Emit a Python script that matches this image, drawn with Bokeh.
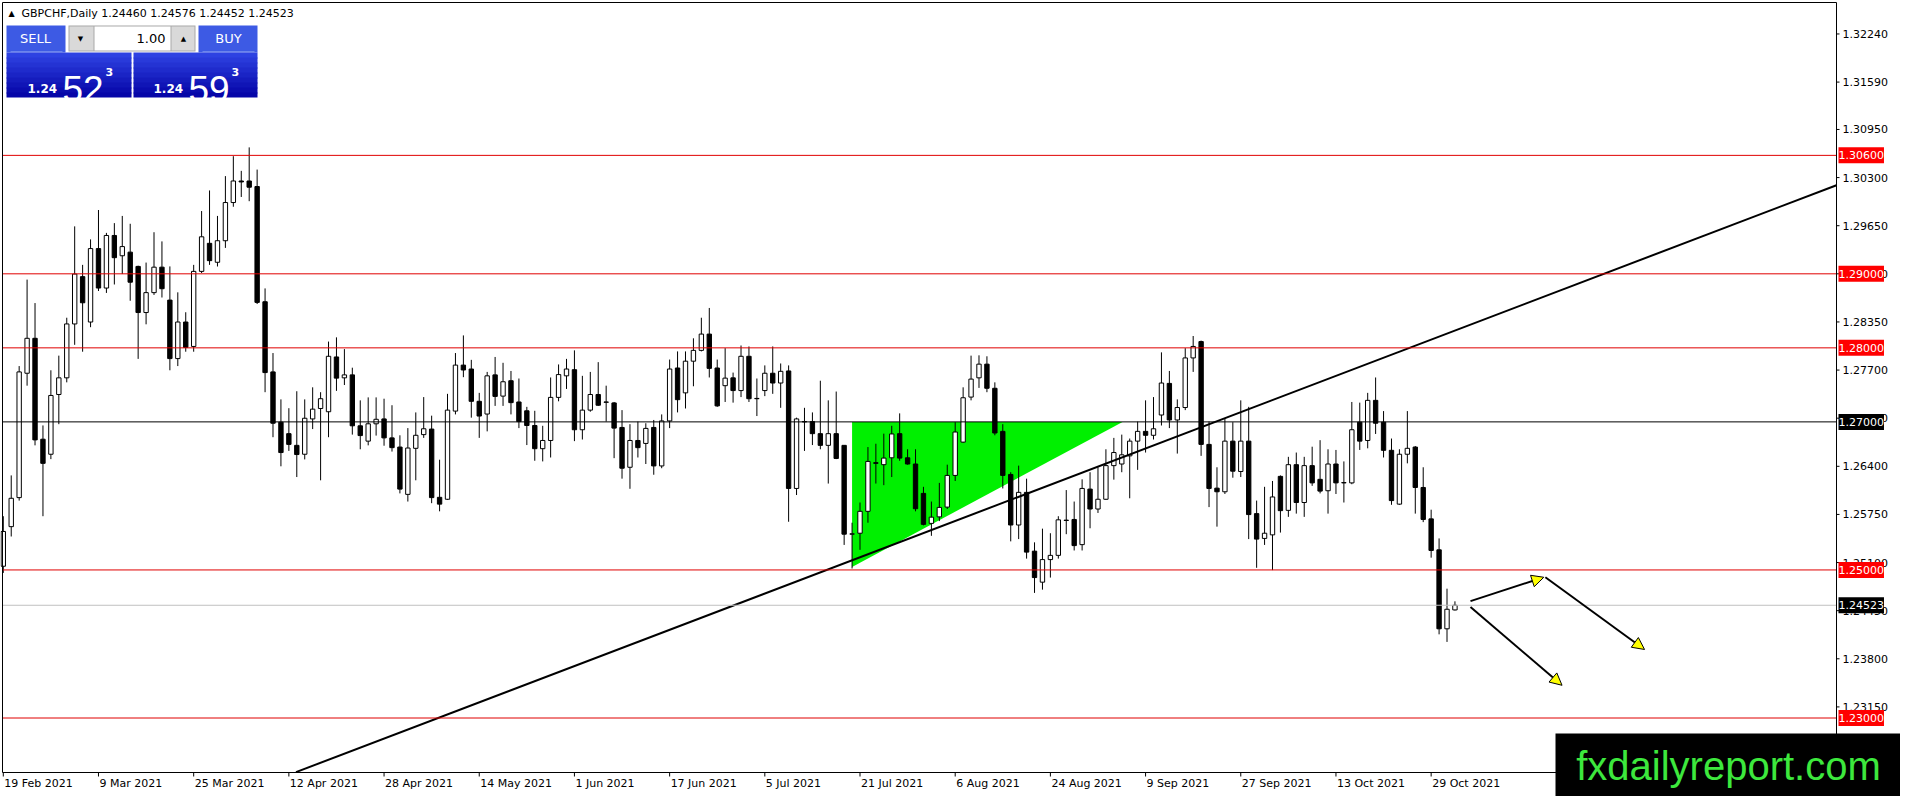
import numpy as np
from bokeh.plotting import figure
from bokeh.models import ColumnDataSource, Label, BoxAnnotation, Arrow, NormalHead
from bokeh.core.properties import value
from bokeh.embed import file_html
from bokeh.resources import INLINE

# ---- data (one candle per trading day, 19 Feb .. 3 Nov 2021)
symbol = "GBPCHF,Daily"
last_ohlc = [1.24460, 1.24576, 1.24452, 1.24523]

opens = [1.2505, 1.25585, 1.25977, 1.27657, 1.28129, 1.26766, 1.26563, 1.2737, 1.27595, 1.28323,
         1.28962, 1.28349, 1.29341, 1.28808, 1.29518, 1.29244, 1.29293, 1.291, 1.28477, 1.28746,
         1.2909, 1.28645, 1.27855, 1.28349, 1.28019, 1.29033, 1.29412, 1.29156, 1.29447, 1.29963,
         1.30254, 1.30254, 1.30179, 1.28623, 1.27675, 1.26996, 1.26841, 1.26683, 1.26563, 1.2704,
         1.27181, 1.27137, 1.27877, 1.27595, 1.27635, 1.26947, 1.2674, 1.26974, 1.2704, 1.26784,
         1.2666, 1.26021, 1.26643, 1.26828, 1.26903, 1.25981, 1.25955, 1.27146, 1.27767, 1.27714,
         1.27278, 1.27106, 1.27635, 1.27348, 1.27556, 1.27269, 1.2715, 1.26951, 1.26638, 1.26749,
         1.27331, 1.27622, 1.27705, 1.26894, 1.27159, 1.2737, 1.27269, 1.27256, 1.26925, 1.26387,
         1.26749, 1.26709, 1.26925, 1.26405, 1.27013, 1.27728, 1.27392, 1.2782, 1.27966, 1.28186,
         1.27728, 1.27489, 1.27595, 1.27423, 1.27886, 1.27317, 1.27423, 1.27657, 1.27525, 1.27688,
         1.26101, 1.27004, 1.27004, 1.26841, 1.26683, 1.26841, 1.26683, 1.25483, 1.25496, 1.25792,
         1.26449, 1.26422, 1.26515, 1.26841, 1.26515, 1.26431, 1.26034, 1.25629, 1.25717, 1.25849,
         1.26277, 1.26727, 1.27335, 1.27595, 1.2778, 1.27454, 1.26872, 1.2629, 1.25607, 1.26048,
         1.25254, 1.24835, 1.2514, 1.25197, 1.25673, 1.25682, 1.25342, 1.26092, 1.25823, 1.25955,
         1.26409, 1.26431, 1.26541, 1.2674, 1.26872, 1.26819, 1.27093, 1.2752, 1.27026, 1.27194,
         1.27864, 1.28085, 1.26696, 1.26105, 1.26056, 1.2674, 1.2633, 1.2674, 1.25761, 1.25426,
         1.25474, 1.26264, 1.25805, 1.26422, 1.25911, 1.26409, 1.26224, 1.2607, 1.26431, 1.2618,
         1.26176, 1.26996, 1.26749, 1.27291, 1.26996, 1.26616, 1.25889, 1.26563, 1.2666, 1.26114,
         1.2569, 1.25272, 1.24205, 1.2446]
highs = [1.25726, 1.26277, 1.27754, 1.28922, 1.28605, 1.26952, 1.27697, 1.27895, 1.28407, 1.29641,
         1.29121, 1.29465, 1.29862, 1.29553, 1.29685, 1.29782, 1.29676, 1.2911, 1.29152, 1.29562,
         1.29438, 1.291, 1.2875, 1.28481, 1.29121, 1.29848, 1.30126, 1.29782, 1.3032, 1.30589,
         1.30391, 1.30708, 1.30408, 1.28803, 1.2793, 1.27304, 1.27185, 1.27414, 1.27304, 1.27467,
         1.27401, 1.28085, 1.28142, 1.27983, 1.27732, 1.27291, 1.27331, 1.27331, 1.27313, 1.27225,
         1.26819, 1.26916, 1.27128, 1.27335, 1.27084, 1.26489, 1.27379, 1.2793, 1.28168, 1.27838,
         1.27392, 1.27675, 1.27877, 1.27798, 1.27688, 1.27586, 1.27203, 1.2715, 1.26947, 1.276,
         1.27776, 1.27851, 1.27966, 1.27622, 1.27675, 1.27807, 1.27489, 1.27269, 1.27159, 1.26969,
         1.27004, 1.26982, 1.27026, 1.27101, 1.27842, 1.27952, 1.27952, 1.28129, 1.28407, 1.28539,
         1.27842, 1.27996, 1.27666, 1.28032, 1.28019, 1.27586, 1.27763, 1.28019, 1.27789, 1.27763,
         1.27057, 1.2719, 1.27128, 1.27556, 1.27291, 1.2741, 1.26683, 1.25638, 1.25911, 1.2666,
         1.26705, 1.26841, 1.26947, 1.27115, 1.2663, 1.2663, 1.26123, 1.25924, 1.26176, 1.26422,
         1.26996, 1.27467, 1.27895, 1.27899, 1.27886, 1.27534, 1.26969, 1.2632, 1.26409, 1.26233,
         1.25373, 1.25558, 1.25496, 1.25726, 1.26079, 1.25924, 1.26224, 1.2632, 1.26387, 1.2663,
         1.26784, 1.26828, 1.26775, 1.27004, 1.27291, 1.27335, 1.27939, 1.27688, 1.27304, 1.27996,
         1.2816, 1.28098, 1.27004, 1.26387, 1.27049, 1.26996, 1.27291, 1.27203, 1.25937, 1.26123,
         1.26202, 1.26277, 1.26528, 1.26586, 1.26528, 1.26665, 1.26753, 1.2663, 1.26621, 1.26466,
         1.27269, 1.2726, 1.27392, 1.276, 1.27146, 1.26775, 1.2663, 1.27146, 1.26674, 1.26387,
         1.25814, 1.25426, 1.24747, 1.24576]
lows = [1.2496, 1.25452, 1.25937, 1.27489, 1.26683, 1.25726, 1.26497, 1.26969, 1.27534, 1.28041,
        1.27948, 1.28279, 1.28768, 1.28742, 1.28856, 1.28997, 1.28636, 1.27851, 1.28318, 1.28715,
        1.2868, 1.27697, 1.27754, 1.27948, 1.27948, 1.29011, 1.29121, 1.29099, 1.2935, 1.29906,
        1.30038, 1.29981, 1.28592, 1.27401, 1.26793, 1.264, 1.26608, 1.26255, 1.26493, 1.26903,
        1.26211, 1.26793, 1.27419, 1.27498, 1.26828, 1.2663, 1.26683, 1.26815, 1.26678, 1.26599,
        1.26034, 1.25924, 1.26211, 1.26784, 1.25902, 1.25792, 1.25946, 1.27101, 1.27604, 1.27057,
        1.26784, 1.26872, 1.27216, 1.27216, 1.27101, 1.26916, 1.26687, 1.26475, 1.26466, 1.26519,
        1.27278, 1.27445, 1.2674, 1.26762, 1.27137, 1.27216, 1.27004, 1.2651, 1.26233, 1.26096,
        1.26519, 1.26431, 1.26286, 1.26374, 1.26916, 1.27128, 1.27181, 1.27481, 1.27952, 1.276,
        1.27203, 1.27269, 1.2726, 1.27335, 1.27269, 1.27079, 1.27348, 1.27379, 1.2719, 1.25651,
        1.26012, 1.26608, 1.26687, 1.2663, 1.26167, 1.26497, 1.25338, 1.2502, 1.25272, 1.25638,
        1.26167, 1.26145, 1.26255, 1.26475, 1.26422, 1.25792, 1.25602, 1.25461, 1.2566, 1.25823,
        1.26202, 1.26718, 1.27291, 1.27459, 1.27401, 1.26819, 1.26101, 1.25386, 1.25417, 1.25153,
        1.2469, 1.24734, 1.24897, 1.25153, 1.25483, 1.25263, 1.25263, 1.25563, 1.2577, 1.25946,
        1.2622, 1.2632, 1.25968, 1.26352, 1.26586, 1.26762, 1.26951, 1.26916, 1.26572, 1.27159,
        1.27675, 1.26541, 1.25849, 1.25585, 1.26026, 1.26246, 1.26255, 1.25417, 1.25029, 1.25338,
        1.24998, 1.25505, 1.25717, 1.25761, 1.25717, 1.26136, 1.26034, 1.25761, 1.26026, 1.25911,
        1.26158, 1.26621, 1.26643, 1.26837, 1.26519, 1.2588, 1.2588, 1.2644, 1.25761, 1.25646,
        1.25166, 1.2413, 1.24028, 1.24452]
closes = [1.2552, 1.25968, 1.27675, 1.28129, 1.26757, 1.2644, 1.27357, 1.27595, 1.28323, 1.28997,
          1.28609, 1.29341, 1.28808, 1.29518, 1.29218, 1.29368, 1.28887, 1.28477, 1.28746, 1.2909,
          1.28799, 1.27855, 1.28349, 1.28005, 1.29033, 1.295, 1.29178, 1.29447, 1.29963, 1.30254,
          1.30241, 1.3017, 1.28614, 1.27666, 1.26982, 1.26586, 1.26696, 1.26559, 1.27049, 1.27172,
          1.27313, 1.27886, 1.27591, 1.27635, 1.26947, 1.26815, 1.26974, 1.27035, 1.26784, 1.26652,
          1.26092, 1.26647, 1.26819, 1.26907, 1.25977, 1.25889, 1.27159, 1.27767, 1.27701, 1.27278,
          1.27079, 1.27622, 1.27344, 1.27542, 1.2726, 1.27004, 1.26951, 1.26638, 1.26749, 1.27331,
          1.27639, 1.27714, 1.26894, 1.27159, 1.2737, 1.27225, 1.27265, 1.26916, 1.26374, 1.26749,
          1.26652, 1.26912, 1.26405, 1.27013, 1.27714, 1.273, 1.2782, 1.27966, 1.28186, 1.27723,
          1.27216, 1.27591, 1.27423, 1.27886, 1.27313, 1.27313, 1.27657, 1.27525, 1.27683, 1.26101,
          1.2704, 1.27, 1.26841, 1.26683, 1.26841, 1.26506, 1.25483, 1.25488, 1.25792, 1.26466,
          1.2644, 1.26511, 1.26837, 1.26511, 1.26431, 1.25827, 1.25616, 1.25713, 1.25845, 1.26277,
          1.26863, 1.27326, 1.27578, 1.2778, 1.27454, 1.2685, 1.26277, 1.25607, 1.26048, 1.25241,
          1.24897, 1.2514, 1.25197, 1.25677, 1.25668, 1.25329, 1.26101, 1.25823, 1.25955, 1.26409,
          1.26586, 1.26555, 1.2674, 1.26872, 1.26819, 1.26907, 1.27525, 1.27026, 1.27194, 1.27864,
          1.28019, 1.26696, 1.26101, 1.26056, 1.2674, 1.26334, 1.2674, 1.25748, 1.25417, 1.25496,
          1.25986, 1.25801, 1.26422, 1.25911, 1.26409, 1.26176, 1.26065, 1.26431, 1.26176, 1.26176,
          1.26894, 1.2674, 1.27291, 1.26982, 1.26616, 1.25937, 1.26563, 1.26643, 1.26114, 1.25682,
          1.25263, 1.24205, 1.24469, 1.24523]

date_ticks = [0, 12, 24, 36, 48, 60, 72, 84, 96, 108, 120, 132, 144, 156, 168, 180]
date_labels = ["19 Feb 2021", "9 Mar 2021", "25 Mar 2021", "12 Apr 2021", "28 Apr 2021",
               "14 May 2021", "1 Jun 2021", "17 Jun 2021", "5 Jul 2021", "21 Jul 2021",
               "6 Aug 2021", "24 Aug 2021", "9 Sep 2021", "27 Sep 2021", "13 Oct 2021",
               "29 Oct 2021"]
price_ticks = [1.23150, 1.23800, 1.24450, 1.25100, 1.25750, 1.26400, 1.27050, 1.27700,
               1.28350, 1.29000, 1.29650, 1.30300, 1.30950, 1.31590, 1.32240]

red_levels = [1.30600, 1.29000, 1.28000, 1.25000, 1.23000]
black_level = 1.27000
bid = 1.24523

trend_x = [36.9, 231.1]
trend_y = [1.22269, 1.30197]
tri_x = [107, 141.1, 107]
tri_y = [1.27, 1.27, 1.2504]
arrow_x0 = [184.96, 194.4, 184.96]
arrow_y0 = [1.24579, 1.24901, 1.24500]
arrow_x1 = [194.2, 206.9, 196.5]
arrow_y1 = [1.24901, 1.23926, 1.23442]

# ---- geometry: the frame fills the canvas, the chart area sits inside it,
# with a price strip on the right and a date strip at the bottom
W, H = 1900, 796
PAD_L, PAD_T, STRIP_R, STRIP_B = 2, 2, 64, 24
X0, X1 = -0.1, 231.1              # bar-index span of the chart area
Y0, Y1 = 1.22264, 1.32665         # price span of the chart area
px_per_bar = (W - PAD_L - STRIP_R) / (X1 - X0)
px_per_unit = (H - PAD_T - STRIP_B) / (Y1 - Y0)
FONT = "DejaVu Sans"


def sx(x):
    return x


def sy(y):
    return H - y


p = figure(width=W, height=H,
           x_range=(X0 - PAD_L / px_per_bar, X1 + STRIP_R / px_per_bar),
           y_range=(Y0 - STRIP_B / px_per_unit, Y1 + PAD_T / px_per_unit),
           output_backend="svg", toolbar_location=None,
           x_axis_location=None, y_axis_location=None,
           min_border=0, min_border_left=0, min_border_right=0,
           min_border_top=0, min_border_bottom=0)
p.grid.visible = False
p.outline_line_color = None
p.background_fill_color = "white"
p.border_fill_color = "white"

# green triangle behind the candles
p.patch(tri_x, tri_y, fill_color="#00f000", line_color=None)

# candles
o = np.array(opens)
c = np.array(closes)
src = ColumnDataSource(dict(
    x=np.arange(len(opens)), h=highs, l=lows,
    top=np.maximum(o, c), bottom=np.minimum(o, c),
    fill=np.where(c >= o, "white", "black"),
))
p.segment("x", "h", "x", "l", source=src, line_color="black", line_width=1)
p.vbar(x="x", width=0.55, top="top", bottom="bottom", source=src,
       fill_color="fill", line_color="black", line_width=1)

# trend line
p.line(trend_x, trend_y, line_color="black", line_width=2)

# horizontal levels (chart area only)
lv_all = red_levels + [black_level, bid]
lv_col = ["#e00000"] * len(red_levels) + ["black", "#c0c0c0"]
p.segment(x0=[X0] * len(lv_all), y0=lv_all, x1=[X1] * len(lv_all), y1=lv_all,
          line_color=lv_col, line_width=1)

# chart border: left, top, price scale line and date scale line
p.segment(x0=[X0, X0, X1, X0], y0=[Y0, Y1, Y0, Y0],
          x1=[X0, X1, X1, X1 + STRIP_R / px_per_bar], y1=[Y1, Y1, Y1, Y0],
          line_color="black", line_width=1)

# price scale
p.ray(x=[X1] * len(price_ticks), y=price_ticks, length=3, length_units="screen", angle=0,
      line_color="black", line_width=1)
p.text(x=[X1] * len(price_ticks), y=price_ticks, text=[f"{v:.5f}" for v in price_ticks],
       x_offset=6, text_font=value(FONT), text_font_size="11px", text_color="black",
       text_align="left", text_baseline="middle")

# date scale: tick below the line, label starting just right of it
p.ray(x=date_ticks, y=[Y0] * len(date_ticks), length=4, length_units="screen",
      angle=-np.pi / 2, line_color="black", line_width=1)
p.text(x=date_ticks, y=[Y0] * len(date_ticks), text=date_labels, x_offset=1, y_offset=4,
       text_font=value(FONT), text_font_size="11px", text_color="black",
       text_align="left", text_baseline="top")

# arrows
asrc = ColumnDataSource(dict(x0=arrow_x0, y0=arrow_y0, x1=arrow_x1, y1=arrow_y1))
p.add_layout(Arrow(x_start="x0", y_start="y0", x_end="x1", y_end="y1", source=asrc,
                   line_color="black", line_width=2,
                   end=NormalHead(size=12, fill_color="yellow", line_color="black", line_width=1)))

# price tags on the right scale
for lv in lv_all:
    bg = "red" if lv in red_levels else "black"
    p.add_layout(Label(x=X1, y=lv, x_offset=2, text=f"{lv:.5f}", text_color="white",
                       text_font=FONT, text_font_size="11px", text_align="left",
                       text_baseline="middle", background_fill_color=bg, padding=(0, 4)))


def box(l, t, r, b, color):
    p.add_layout(BoxAnnotation(left=sx(l), right=sx(r), top=sy(t), bottom=sy(b),
                               left_units="screen", right_units="screen",
                               top_units="screen", bottom_units="screen",
                               fill_color=color, fill_alpha=1.0, line_color=None))


def txt(x, y, s, size, color="white", font=FONT, style="normal", align="left", base="middle"):
    p.add_layout(Label(x=sx(x), y=sy(y), x_units="screen", y_units="screen", text=s,
                       text_font=font, text_font_size=size, text_font_style=style,
                       text_color=color, text_align=align, text_baseline=base, level="overlay"))


# header line
txt(11, 13, "\u25b2", "8px", color="black", align="center")
txt(21, 13, symbol + "  " + " ".join(f"{v:.5f}" for v in last_ohlc), "11px", color="black")

# one-click trading panel
box(6, 25, 65, 52, "#3d5ae4")
box(198, 25, 257, 52, "#3d5ae4")
box(10, 51, 62, 52, "#9cb0f4")
box(202, 51, 254, 52, "#9cb0f4")
box(68, 25, 195, 51, "#a8a8a8")
box(69, 26, 93, 50, "#d9d9d9")
box(94, 26, 170, 50, "white")
box(171, 26, 194, 50, "#d9d9d9")
top_c, bot_c = np.array([46, 66, 226]), np.array([6, 6, 168])
for k in range(9):
    col = "#%02x%02x%02x" % tuple(int(v) for v in top_c + (bot_c - top_c) * k / 8)
    box(6, 52 + 5 * k, 131, min(58 + 5 * k, 97), col)
    box(133, 52 + 5 * k, 257, min(58 + 5 * k, 97), col)

txt(35, 38, "SELL", "13px", align="center")
txt(228, 38, "BUY", "13px", align="center")
txt(165, 38, "1.00", "13px", color="black", align="right")
txt(80, 38, "\u25bc", "7px", color="black", align="center")
txt(183, 38, "\u25b2", "7px", color="black", align="center")
for x0, big in ((27, "52"), (153, "59")):
    txt(x0, 88, "1.24", "12px", style="bold", base="alphabetic")
    txt(x0 + 35, 88, big, "37px", font="Liberation Sans", base="alphabetic")
    txt(x0 + 78, 71, "3", "11px", style="bold", base="alphabetic")

# watermark
box(W - 345, H - 63, W, H, "black")
txt(W - 172, H - 31, "fxdailyreport.com", "40px", color="#3de83d", font="Liberation Sans",
    align="center")

open("out.html", "w").write(file_html(p, INLINE))
